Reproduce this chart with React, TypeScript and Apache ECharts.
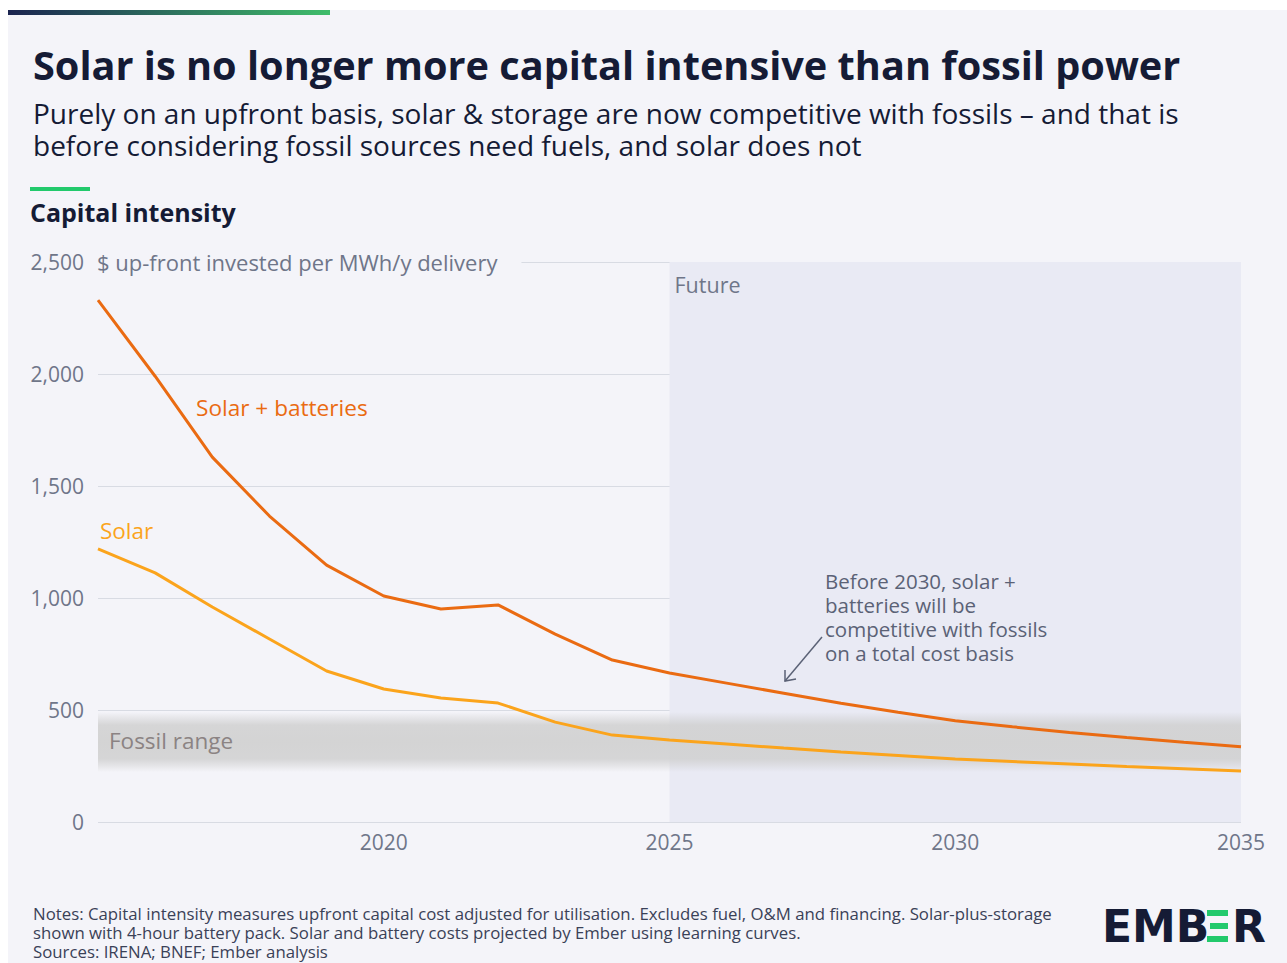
import React, { useEffect, useRef } from "react";
import * as echarts from "echarts";

const years = [2015, 2016, 2017, 2018, 2019, 2020, 2021, 2022, 2023, 2024, 2025, 2026, 2027, 2028, 2029, 2030, 2031, 2032, 2033, 2034, 2035];
const solarBatteries = [2330, 1990, 1629, 1366, 1147, 1009, 951, 969, 839, 723, 665, 620, 575, 530, 490, 452, 425, 400, 377, 356, 336];
const solar = [1219, 1112, 960, 817, 674, 594, 554, 531, 446, 388, 366, 348, 330, 313, 297, 281, 270, 259, 248, 238, 228];
const fossilRange = [223, 491];
const futureStart = 2025;
const xTicks = [2020, 2025, 2030, 2035];

const subtitleLines = [
  "Purely on an upfront basis, solar & storage are now competitive with fossils – and that is",
  "before considering fossil sources need fuels, and solar does not",
];
const noteLines = [
  "Notes: Capital intensity measures upfront capital cost adjusted for utilisation. Excludes fuel, O&M and financing. Solar-plus-storage",
  "shown with 4-hour battery pack. Solar and battery costs projected by Ember using learning curves.",
  "Sources: IRENA; BNEF; Ember analysis",
];

const FONT = "'Open Sans', 'Noto Sans', sans-serif";
const NAVY = "#151b35";
const GRAY = "#6f7689";

export default function App() {
  const ref = useRef<HTMLDivElement>(null);
  useEffect(() => {
    if (!ref.current) return;
    const chart = echarts.init(ref.current, null, { renderer: "svg" });
    const sbData = years.map((y, i) => [y, solarBatteries[i]]);
    const sData = years.map((y, i) => [y, solar[i]]);
    chart.setOption({
      animation: false,
      backgroundColor: "transparent",
      textStyle: { fontFamily: FONT },
      grid: { left: 98, right: 46, top: 262, bottom: 141, containLabel: false },
      xAxis: {
        type: "value",
        min: 2015,
        max: 2035,
        interval: 5,
        axisLine: { show: false },
        axisTick: { show: false },
        splitLine: { show: false },
        axisLabel: {
          color: GRAY,
          fontSize: 21,
          fontFamily: FONT,
          margin: 9,
          formatter: (v: number) => (xTicks.includes(v) ? String(v) : ""),
        },
      },
      yAxis: {
        type: "value",
        min: 0,
        max: 2500,
        interval: 500,
        axisLine: { show: false },
        axisTick: { show: false },
        splitLine: { lineStyle: { color: "#d8dbe3", width: 1 } },
        axisLabel: {
          color: GRAY,
          fontSize: 21,
          fontFamily: FONT,
          margin: 14,
          formatter: (v: number) => v.toLocaleString("en-US"),
        },
      },
      series: [
        {
          type: "line",
          data: [],
          silent: true,
          z: 1,
          markArea: {
            silent: true,
            itemStyle: { color: "#e9eaf4" },
            label: {
              show: true,
              position: "insideTopLeft",
              formatter: "Future",
              color: GRAY,
              fontSize: 21.5,
              fontFamily: FONT,
              offset: [0, 6],
            },
            data: [[{ xAxis: futureStart, yAxis: 0 }, { xAxis: 2035, yAxis: 2500 }]],
          },
        },
        {
          type: "line",
          data: [],
          silent: true,
          z: 2,
          markArea: {
            silent: true,
            itemStyle: {
              color: new echarts.graphic.LinearGradient(0, 0, 0, 1, [
                { offset: 0, color: "rgba(205,205,205,0)" },
                { offset: 0.22, color: "rgba(208,208,208,0.85)" },
                { offset: 0.5, color: "rgba(210,210,210,0.95)" },
                { offset: 0.78, color: "rgba(208,208,208,0.85)" },
                { offset: 1, color: "rgba(205,205,205,0)" },
              ]),
            },
            label: {
              show: true,
              position: "insideLeft",
              formatter: "Fossil range",
              color: "#8b8383",
              fontSize: 22.5,
              fontFamily: FONT,
              offset: [6, -2],
            },
            data: [[{ xAxis: 2015, yAxis: fossilRange[0] }, { xAxis: 2035, yAxis: fossilRange[1] }]],
          },
        },
        {
          name: "Solar + batteries",
          type: "line",
          data: sbData,
          symbol: "none",
          z: 5,
          lineStyle: { color: "#ea6b12", width: 3 },
        },
        {
          name: "Solar",
          type: "line",
          data: sData,
          symbol: "none",
          z: 5,
          lineStyle: { color: "#fba41c", width: 3 },
        },
      ],
      graphic: [
        {
          type: "rect",
          shape: { x: 8, y: 10, width: 322, height: 5 },
          style: {
            fill: new echarts.graphic.LinearGradient(0, 0, 1, 0, [
              { offset: 0, color: "#1b2450" },
              { offset: 1, color: "#3fbd6b" },
            ]),
          },
        },
        {
          type: "text",
          x: 33,
          y: 65,
          style: {
            text: "Solar is no longer more capital intensive than fossil power",
            fill: NAVY,
            font: `700 39.7px ${FONT}`,
            textVerticalAlign: "middle",
          },
        },
        ...subtitleLines.map((t, i) => ({
          type: "text",
          x: 33,
          y: 113 + i * 32,
          style: {
            text: t,
            fill: NAVY,
            font: `400 28px ${FONT}`,
            textVerticalAlign: "middle",
          },
        })),
        {
          type: "rect",
          shape: { x: 30, y: 187, width: 60, height: 4 },
          style: { fill: "#22c96c" },
        },
        {
          type: "text",
          x: 30,
          y: 212,
          style: {
            text: "Capital intensity",
            fill: NAVY,
            font: `700 25px ${FONT}`,
            textVerticalAlign: "middle",
          },
        },
        {
          type: "text",
          x: 90,
          y: 262,
          z: 10,
          style: {
            text: "$ up-front invested per MWh/y delivery",
            fill: GRAY,
            font: `400 22px ${FONT}`,
            textVerticalAlign: "middle",
            backgroundColor: "#f4f4f9",
            padding: [4, 24, 4, 7],
          },
        },
        {
          type: "text",
          x: 196,
          y: 407,
          z: 10,
          style: {
            text: "Solar + batteries",
            fill: "#ea6b12",
            font: `400 22.6px ${FONT}`,
            textVerticalAlign: "middle",
          },
        },
        {
          type: "text",
          x: 100,
          y: 530,
          z: 10,
          style: {
            text: "Solar",
            fill: "#fba41c",
            font: `400 22.5px ${FONT}`,
            textVerticalAlign: "middle",
          },
        },
        {
          type: "text",
          x: 821,
          y: 569,
          z: 10,
          style: {
            text: "Before 2030, solar +\nbatteries will be\ncompetitive with fossils\non a total cost basis",
            fill: "#5b6276",
            font: `400 20.5px ${FONT}`,
            lineHeight: 24,
            backgroundColor: "#e9eaf4",
            padding: [0, 28, 0, 4],
          },
        },
        {
          type: "line",
          z: 10,
          shape: { x1: 822, y1: 637, x2: 785, y2: 681 },
          style: { stroke: "#5b6276", lineWidth: 1.5 },
        },
        {
          type: "polyline",
          z: 10,
          shape: { points: [[785, 670], [785, 681], [796, 679]] },
          style: { stroke: "#5b6276", lineWidth: 1.5, fill: "none" },
        },
        ...noteLines.map((t, i) => ({
          type: "text",
          x: 33,
          y: 913 + i * 19,
          style: {
            text: t,
            fill: "#3a4157",
            font: `400 16.8px ${FONT}`,
            textVerticalAlign: "middle",
          },
        })),
        {
          type: "text",
          x: 1102,
          y: 926,
          style: {
            text: "EMB",
            fill: NAVY,
            font: `800 44px 'DejaVu Sans', ${FONT}`,
            textVerticalAlign: "middle",
          },
        },
        { type: "rect", shape: { x: 1207, y: 910, width: 21, height: 6 }, style: { fill: "#22c96c" } },
        { type: "rect", shape: { x: 1210, y: 923, width: 18, height: 6 }, style: { fill: "#22c96c" } },
        { type: "rect", shape: { x: 1207, y: 936, width: 21, height: 6 }, style: { fill: "#22c96c" } },
        {
          type: "text",
          x: 1232,
          y: 926,
          style: {
            text: "R",
            fill: NAVY,
            font: `800 44px 'DejaVu Sans', ${FONT}`,
            textVerticalAlign: "middle",
          },
        },
      ],
    });
    return () => chart.dispose();
  }, []);

  return (
    <div style={{ position: "fixed", left: 0, top: 0, width: 1287, height: 963, background: "#ffffff" }}>
      <div style={{ position: "absolute", left: 8, top: 10, right: 0, bottom: 0, background: "#f4f4f9" }} />
      <div ref={ref} style={{ position: "absolute", left: 0, top: 0, width: 1287, height: 963 }} />
    </div>
  );
}
